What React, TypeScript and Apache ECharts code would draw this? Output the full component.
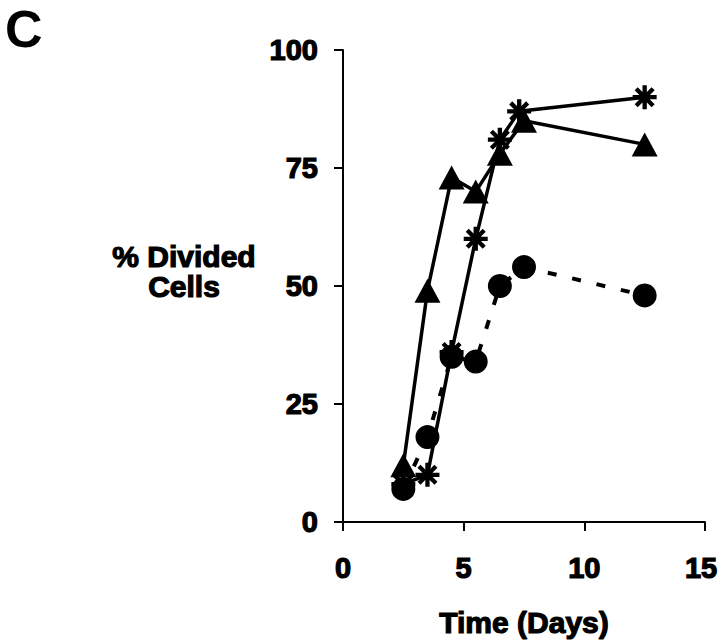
import React, { useEffect, useRef } from "react";
import * as echarts from "echarts";

const days = [2.5, 3.5, 4.5, 5.5, 6.5, 7.5, 12.5];
const asteriskDays = [2.5, 3.5, 4.5, 5.5, 6.5, 7.3, 12.5];
const triangleValues = [12, 49, 73, 70, 78, 85, 80];
const asteriskValues = [8, 10, 36, 60, 81, 87, 90];
const circleValues = [7, 18, 35, 34, 50, 54, 48];
const xTicks = [0, 5, 10, 15];
const yTicks = [0, 25, 50, 75, 100];
const yTitleLines = ["% Divided", "Cells"];

function asteriskPath(): string {
  const L = 10;
  const w = 1.8;
  const parts: string[] = [];
  [0, 45, 90, 135].forEach((deg) => {
    const t = (deg * Math.PI) / 180;
    const dx = Math.cos(t), dy = Math.sin(t);
    const nx = -Math.sin(t), ny = Math.cos(t);
    const pts = [
      [L * dx + w * nx, L * dy + w * ny],
      [L * dx - w * nx, L * dy - w * ny],
      [-L * dx - w * nx, -L * dy - w * ny],
      [-L * dx + w * nx, -L * dy + w * ny],
    ];
    parts.push(
      "M" + pts.map((p) => p[0].toFixed(3) + " " + p[1].toFixed(3)).join(" L") + " Z"
    );
  });
  return "path://" + parts.join(" ");
}

const FONT = "'Liberation Sans', Arial, sans-serif";
const heavy = { textBorderColor: "#000", textBorderWidth: 1.2 };

export default function App() {
  const ref = useRef<HTMLDivElement>(null);
  useEffect(() => {
    if (!ref.current) return;
    const chart = echarts.init(ref.current, null, { renderer: "svg" });
    const pair = (xs: number[], ys: number[]) => xs.map((x, i) => [x, ys[i]]);
    const lastX = xTicks[xTicks.length - 1];
    chart.setOption({
      animation: false,
      backgroundColor: "#ffffff",
      grid: {
        left: 343,
        right: 15,
        top: 50,
        bottom: 122,
        containLabel: false,
        outerBoundsMode: "none",
      },
      xAxis: {
        type: "value",
        min: xTicks[0],
        max: lastX,
        interval: 5,
        name: "Time (Days)",
        nameLocation: "middle",
        nameGap: 85,
        nameTextStyle: { fontFamily: FONT, fontWeight: "bold", fontSize: 30, color: "#000", ...heavy },
        axisLine: { lineStyle: { color: "#000", width: 2 } },
        axisTick: { show: true, inside: false, length: 9, lineStyle: { color: "#000", width: 2 } },
        axisLabel: {
          margin: 31,
          fontFamily: FONT,
          fontWeight: "bold",
          fontSize: 29,
          color: "#000",
          ...heavy,
          formatter: (v: number) => (v === lastX ? "{last|" + v + "}" : String(v)),
          rich: {
            last: {
              fontFamily: FONT,
              fontWeight: "bold",
              fontSize: 29,
              color: "#000",
              ...heavy,
              padding: [0, 8, 0, 0],
            },
          },
        },
        splitLine: { show: false },
      },
      yAxis: {
        type: "value",
        min: yTicks[0],
        max: yTicks[yTicks.length - 1],
        interval: 25,
        axisLine: { show: true, lineStyle: { color: "#000", width: 2 } },
        axisTick: { show: true, inside: false, length: 9, lineStyle: { color: "#000", width: 2 } },
        axisLabel: { margin: 25, fontFamily: FONT, fontWeight: "bold", fontSize: 29, color: "#000", ...heavy },
        splitLine: { show: false },
      },
      graphic: [
        {
          type: "text",
          left: 5,
          top: 3,
          style: { text: "C", font: "bold 52px " + FONT, fill: "#000" },
        },
        ...yTitleLines.map((line, i) => ({
          type: "text",
          x: 184,
          y: 256 + i * 30,
          style: {
            text: line,
            font: "bold 30px " + FONT,
            fill: "#000",
            stroke: "#000",
            lineWidth: 1.2,
            align: "center",
            verticalAlign: "middle",
          },
        })),
      ],
      series: [
        {
          type: "line",
          data: pair(days, circleValues),
          symbol: "circle",
          symbolSize: 24,
          itemStyle: { color: "#000" },
          lineStyle: { color: "#000", width: 4, type: [9, 16] },
          z: 2,
        },
        {
          type: "line",
          data: pair(days, triangleValues),
          symbol: "triangle",
          symbolSize: [26, 24],
          itemStyle: { color: "#000" },
          lineStyle: { color: "#000", width: 3.5 },
          z: 3,
        },
        {
          type: "line",
          data: pair(asteriskDays, asteriskValues),
          symbol: asteriskPath(),
          symbolSize: 24,
          itemStyle: { color: "#000" },
          lineStyle: { color: "#000", width: 3.5 },
          z: 4,
        },
      ],
    });
    return () => chart.dispose();
  }, []);
  return (
    <div
      ref={ref}
      style={{ position: "absolute", left: 0, top: 0, width: 720, height: 644 }}
    />
  );
}
